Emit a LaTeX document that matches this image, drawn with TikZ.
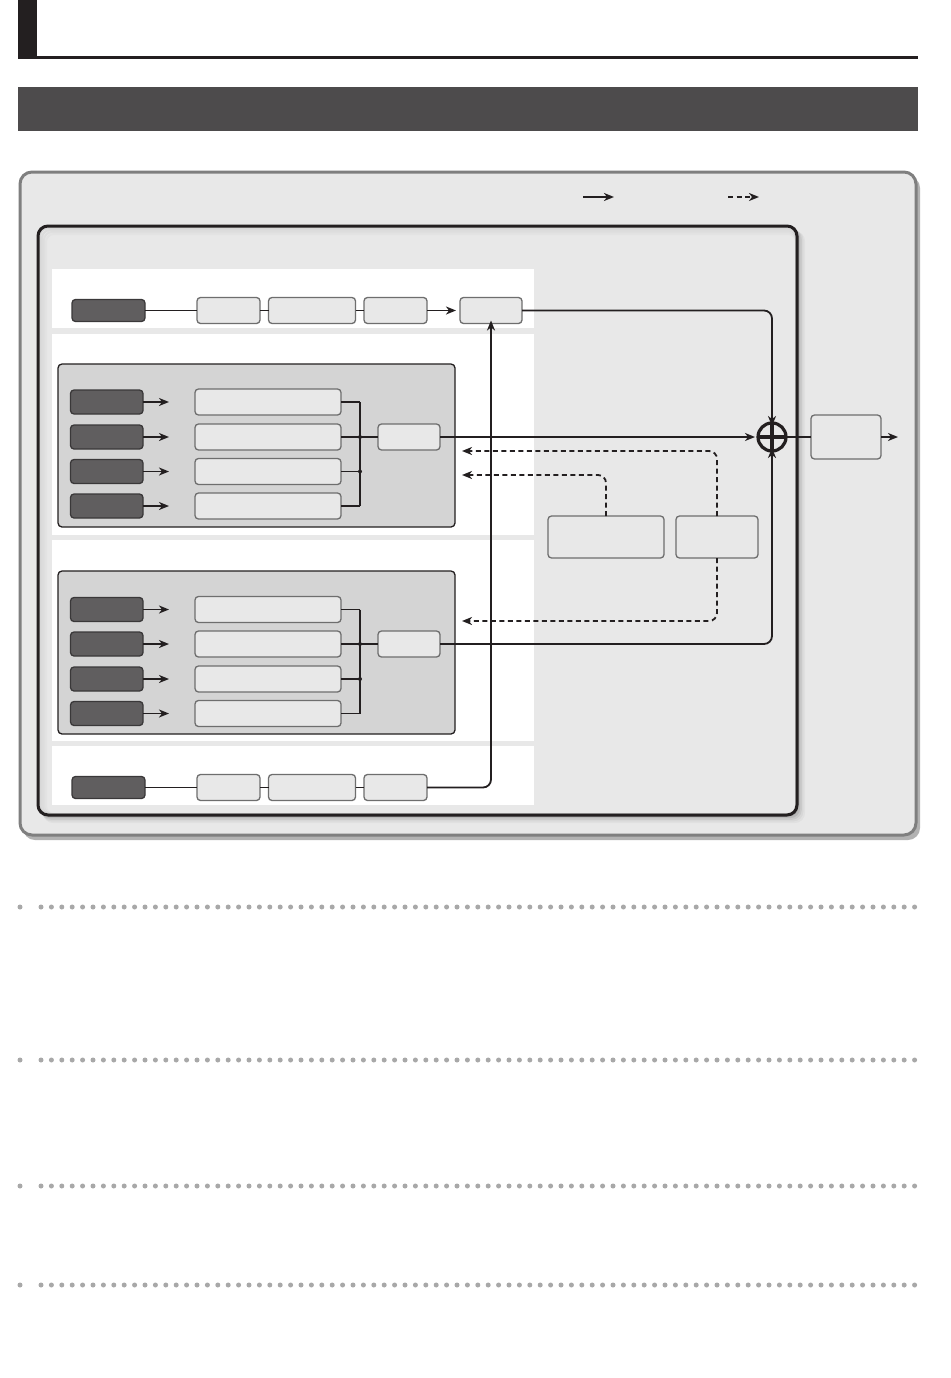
\documentclass[tikz,border=0pt]{standalone}
\usetikzlibrary{arrows.meta}
\definecolor{ink}{HTML}{231F20}
\definecolor{panelfill}{HTML}{E8E8E8}
\definecolor{outerborder}{HTML}{7F7F7F}
\definecolor{darkfill}{HTML}{605E5F}
\definecolor{darkborder}{HTML}{3A3839}
\definecolor{lightfill}{HTML}{E8E8E8}
\definecolor{lightborder}{HTML}{6E6E6E}
\definecolor{groupfill}{HTML}{D4D4D4}
\definecolor{bandcol}{HTML}{4D4B4C}
\definecolor{dotgray}{HTML}{A8A8A8}
\tikzset{
  boxbase/.style={rectangle, inner sep=0pt, outer sep=0pt, rounded corners=3.5pt},
  darkbox/.style={boxbase, fill=darkfill, draw=darkborder, line width=1.3pt, minimum width=#1, minimum height=22pt},
  darkbox/.default=73pt,
  lightbox/.style={boxbase, fill=lightfill, draw=lightborder, line width=1.3pt, minimum width=#1, minimum height=26pt},
  conn/.style={draw=ink, line width=1.8pt},
  arr/.style={conn, -{Stealth[length=10pt,width=8pt,inset=3pt]}},
  dconn/.style={conn, dash pattern=on 5pt off 3.5pt},
  darr/.style={dconn, -{Stealth[length=10pt,width=8pt,inset=3pt]}},
  grouppanel/.style={fill=groupfill, draw=ink, line width=1.3pt, rounded corners=4pt},
  juncdot/.style={fill=ink}
}
\begin{document}
\begin{tikzpicture}[x=1pt,y=-1pt]
\useasboundingbox (0,0) rectangle (950,1378);
\fill[white] (0,0) rectangle (950,1378);

% header
\fill[ink] (18,0) rectangle (37,59);
\fill[ink] (18,56) rectangle (918,59);
\fill[bandcol] (18,87) rectangle (918,131);

% outer panel with shadow
\fill[black!30, rounded corners=12pt] (23,176) rectangle (920,840);
\filldraw[fill=panelfill, draw=outerborder, line width=3pt, rounded corners=12pt] (20,172) rectangle (916,835);

% legend
\coordinate (lgA) at (583,197); \coordinate (lgB) at (614,197);
\coordinate (lgC) at (728,197); \coordinate (lgD) at (759,197);
\draw[arr] (lgA) -- (lgB);
\draw[darr] (lgC) -- (lgD);

% inner box with soft shadow
\foreach \k/\o in {1/0.10,2/0.08,3/0.06,4/0.04,5/0.03}{
  \fill[black, opacity=\o, rounded corners=10pt] (38+\k,226+\k) rectangle (797+\k*1.6,815+\k*1.6);
}
\fill[panelfill, rounded corners=10pt] (38,226) rectangle (797,815);
\foreach \k/\o in {2/0.07,4/0.05,6/0.035,8/0.02}{
  \draw[black, opacity=\o, line width=2pt, rounded corners=8pt] (38+\k,226+\k) rectangle (797-1,815-1);
}
\draw[ink, line width=3pt, rounded corners=10pt] (38,226) rectangle (797,815);

% white bands
\fill[white] (52,269) rectangle (534,328);
\fill[white] (52,334) rectangle (534,535);
\fill[white] (52,540) rectangle (534,741);
\fill[white] (52,746) rectangle (534,805);

% group panels
\draw[grouppanel] (58,364) rectangle (455,527);
\draw[grouppanel] (58,571) rectangle (455,734);

% ---- row 1
\node[darkbox] (d1) at (108.5,310.5) {};
\node[lightbox=63pt] (a1) at (228.5,310.5) {};
\node[lightbox=87pt] (b1) at (312,310.5) {};
\node[lightbox=63pt] (c1) at (395.5,310.5) {};
\node[lightbox=62pt] (r1) at (491,310.5) {};
\draw[conn] (d1.east) -- (a1.west);
\draw[conn] (a1.east) -- (b1.west);
\draw[conn] (b1.east) -- (c1.west);
\draw[arr] (c1.east) -- ([xshift=-4pt]r1.west);

% ---- sum and output
\node[circle, draw=ink, line width=3.2pt, minimum size=28pt, inner sep=0pt, outer sep=0pt] (sum) at (772,437) {};
\draw[ink, line width=3.2pt] (sum.north) -- (sum.south) (sum.west) -- (sum.east);
\node[lightbox=70pt, minimum height=44pt] (out) at (846,437) {};
\coordinate (outend) at (898,437);
\draw[conn] (sum.east) -- (out.west);
\draw[arr] (out.east) -- (outend);

\draw[arr, rounded corners=8pt] (r1.east) -- (772,310.5) -- ([yshift=-3pt]sum.north);

% ---- upper group
\foreach \i/\y in {1/402,2/437,3/471.5,4/506}{
  \node[darkbox=72.5pt, minimum height=24pt] (gu\i) at (106.75,\y) {};
  \node[lightbox=146pt] (lu\i) at (268,\y) {};
  \coordinate (au\i) at (169,\y);
  \draw[arr] (gu\i.east) -- (au\i);
  \coordinate (ju\i) at (360,\y);
  \draw[conn] (lu\i.east) -- (ju\i);
}
\draw[conn] (ju1) -- (ju4);
\node[lightbox=62pt] (mu) at (409,437) {};
\draw[conn] (ju2) -- (mu.west);
\fill[juncdot] (ju2) circle (2pt);
\fill[juncdot] (ju3) circle (2pt);
\draw[arr] (mu.east) -- ([xshift=-3pt]sum.west);

% ---- lower group
\foreach \i/\y in {1/609.5,2/644,3/679,4/713.5}{
  \node[darkbox=72.5pt, minimum height=24pt] (gl\i) at (106.75,\y) {};
  \node[lightbox=146pt] (ll\i) at (268,\y) {};
  \coordinate (al\i) at (169,\y);
  \draw[arr] (gl\i.east) -- (al\i);
  \coordinate (jl\i) at (360,\y);
  \draw[conn] (ll\i.east) -- (jl\i);
}
\draw[conn] (jl1) -- (jl4);
\node[lightbox=62pt] (ml) at (409,644) {};
\draw[conn] (jl2) -- (ml.west);
\fill[juncdot] (jl2) circle (2pt);
\fill[juncdot] (jl3) circle (2pt);
\draw[arr, rounded corners=8pt] (ml.east) -- (772,644) -- ([yshift=3pt]sum.south);

% ---- effect boxes
\node[lightbox=116pt, minimum height=42pt] (fx1) at (606,537) {};
\node[lightbox=82pt, minimum height=42pt] (fx2) at (717,537) {};
\coordinate (dt1) at (462,451);
\coordinate (dt2) at (462,475);
\coordinate (dt3) at (462,621);
\draw[darr, rounded corners=8pt] (fx2.north) -- (717,451) -- (dt1);
\draw[darr, rounded corners=8pt] (fx1.north) -- (606,475) -- (dt2);
\draw[darr, rounded corners=8pt] (fx2.south) -- (717,621) -- (dt3);

% ---- bottom row
\node[darkbox] (d4) at (108.5,787.5) {};
\node[lightbox=63pt] (a4) at (228.5,787.5) {};
\node[lightbox=87pt] (b4) at (312,787.5) {};
\node[lightbox=63pt] (c4) at (395.5,787.5) {};
\draw[conn] (d4.east) -- (a4.west);
\draw[conn] (a4.east) -- (b4.west);
\draw[conn] (b4.east) -- (c4.west);
\draw[arr, rounded corners=8pt] (c4.east) -- (491,787.5) -- ([yshift=3pt]r1.south);

% ---- dotted separators
\foreach \yy in {907,1060,1186,1285}{
  \fill[dotgray] (20,\yy) circle (2.5pt);
  \foreach \i in {0,...,84}{
    \fill[dotgray] (41+\i*10.4,\yy) circle (2.5pt);
  }
}
\end{tikzpicture}
\end{document}
